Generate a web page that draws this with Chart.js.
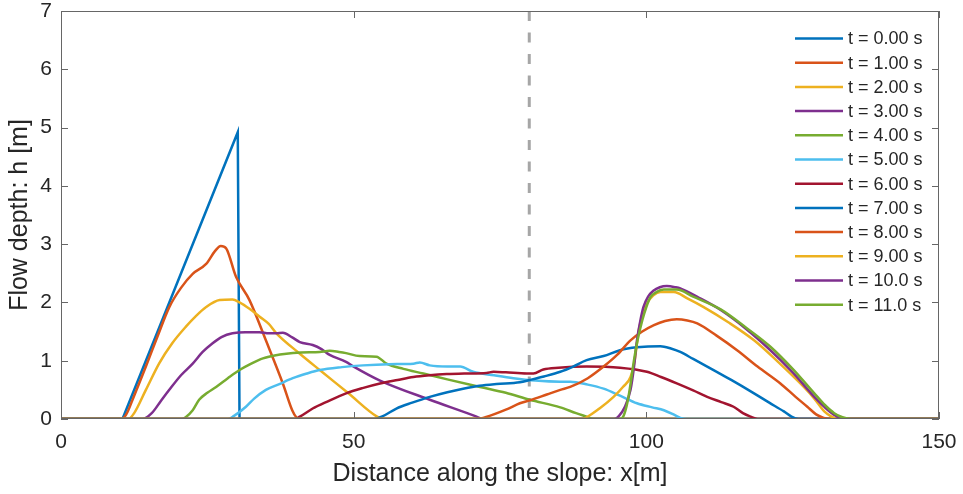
<!DOCTYPE html>
<html>
<head>
<meta charset="utf-8">
<script src="https://cdn.jsdelivr.net/npm/chart.js@4.4.0/dist/chart.umd.min.js"></script>
<style>
  html, body { margin: 0; padding: 0; background: #fff; }
  #wrap { width: 963px; height: 494px; }
</style>
</head>
<body>
<div id="wrap"><canvas id="chart"></canvas></div>
<script>
// flow depth profiles h(x) for each time step, [x, h]
const t0 = [[0,0],[10.5,0],[30.2,4.92],[30.5,0],[150,0]];
const t1 = [[0,0],[10.3,0],[11.1,0.07],[12.5,0.4],[14.5,0.9],[16.5,1.42],[18.5,1.92],[20.5,2.25],[22.5,2.49],[24.8,2.66],[26.3,2.88],[27.3,2.97],[28.2,2.93],[29.9,2.44],[32.2,2.04],[35,1.35],[37.9,0.61],[39.5,0.15],[40.2,0.03],[41,0],[150,0]];
const t2 = [[0,0],[11.5,0],[12.5,0.1],[14.5,0.5],[16.8,0.96],[19,1.3],[21.3,1.58],[23,1.76],[24.8,1.92],[27.1,2.04],[29.3,2.05],[30.5,2],[32.2,1.89],[34,1.75],[35.5,1.63],[36.8,1.47],[40.8,1.12],[44.2,0.84],[49,0.45],[54,0.04],[55,0],[150,0]];
const t3 = [[0,0],[14,0],[15.5,0.1],[17,0.3],[18.5,0.5],[20.5,0.75],[22.5,0.95],[24.2,1.15],[25.9,1.3],[27.5,1.41],[29.3,1.47],[31.5,1.49],[33.9,1.49],[35.5,1.47],[36.8,1.47],[37.9,1.48],[39.5,1.4],[40.8,1.32],[43,1.27],[44.5,1.2],[45.9,1.1],[48.7,0.98],[50,0.9],[54.5,0.66],[63,0.33],[71,0.04],[72,0],[150,0]];
const t4 = [[0,0],[20.5,0],[21.3,0.03],[22.5,0.15],[23.6,0.33],[25,0.45],[26.5,0.55],[28.5,0.7],[30.5,0.84],[32.5,0.95],[34.5,1.04],[36.5,1.09],[38.5,1.12],[41,1.14],[44.2,1.15],[45.9,1.17],[47.5,1.15],[48.7,1.13],[51,1.08],[53.9,1.07],[55.6,0.95],[58.5,0.86],[61.9,0.78],[66,0.68],[71.6,0.55],[76,0.45],[80.1,0.33],[85.3,0.2],[88,0.1],[89.8,0.04],[91,0],[150,0]];
const t5 = [[0,0],[28.5,0],[29.5,0.05],[31.6,0.21],[33,0.35],[35,0.5],[37.3,0.6],[39.6,0.7],[42,0.78],[44.2,0.84],[48,0.89],[51.6,0.92],[56,0.94],[60.2,0.95],[61.3,0.97],[63,0.92],[66,0.9],[68.2,0.9],[70.4,0.81],[74,0.75],[77.3,0.7],[81,0.66],[85.3,0.64],[87,0.64],[90,0.59],[92.7,0.52],[95.5,0.4],[98.4,0.27],[101,0.2],[103,0.15],[104.8,0.07],[105.8,0.02],[107,0],[150,0]];
const t6 = [[0,0],[40,0],[40.8,0.04],[43,0.18],[45.5,0.3],[48.7,0.44],[51.5,0.53],[54.5,0.61],[57.5,0.67],[60.2,0.72],[63,0.75],[65.9,0.77],[69,0.78],[72.7,0.79],[73.9,0.81],[76,0.8],[79.6,0.78],[80.7,0.78],[82.4,0.85],[85,0.88],[89.8,0.9],[95.5,0.88],[100.1,0.81],[102.5,0.72],[105.2,0.61],[108,0.49],[110.4,0.38],[112.8,0.29],[114.9,0.21],[116.5,0.1],[117.8,0.04],[119,0],[150,0]];
const t7 = [[0,0],[53.5,0],[55,0.05],[57.3,0.18],[60,0.28],[63,0.38],[66,0.46],[68.7,0.52],[71.5,0.57],[74.4,0.6],[78.4,0.63],[80.1,0.67],[82.5,0.73],[85.3,0.81],[87.5,0.9],[89.8,1.01],[92.7,1.08],[95.5,1.18],[98.4,1.23],[102.4,1.25],[104.2,1.21],[105.8,1.15],[108,1.03],[110.4,0.9],[114.5,0.67],[118.4,0.44],[121,0.28],[123.5,0.13],[124.8,0.04],[126,0],[150,0]];
const t8 = [[0,0],[71.2,0],[72.5,0.03],[76,0.16],[78.4,0.27],[80.1,0.32],[83,0.42],[85.3,0.5],[87,0.55],[90,0.7],[92.7,0.9],[95,1.1],[97.3,1.35],[99.3,1.5],[101.3,1.61],[103.2,1.68],[105.2,1.71],[107,1.69],[108.7,1.64],[112,1.43],[115.5,1.18],[119,0.9],[122.9,0.61],[125.5,0.38],[127.5,0.21],[129,0.08],[130.3,0.02],[131.5,0],[150,0]];
const t9 = [[0,0],[89,0],[89.8,0.03],[92,0.18],[94.4,0.38],[96,0.55],[97.3,0.72],[98,1],[98.7,1.52],[99.4,1.8],[100.1,1.98],[101.2,2.12],[102.4,2.18],[104.7,2.18],[107,2.07],[109.8,1.92],[114,1.66],[118.4,1.35],[122.5,0.98],[126.9,0.55],[128.7,0.35],[130.4,0.13],[131.5,0.05],[132.7,0],[150,0]];
const t10 = [[0,0],[94.5,0],[95.3,0.05],[96.3,0.2],[97.3,0.5],[97.9,0.9],[98.4,1.35],[99,1.7],[99.5,1.92],[100.3,2.1],[101.2,2.2],[102.3,2.26],[103.5,2.28],[105,2.26],[105.8,2.24],[109,2.08],[112.7,1.87],[117,1.55],[121.2,1.18],[125,0.8],[128.7,0.38],[130.5,0.2],[132.1,0.07],[133.5,0.01],[135,0],[150,0]];
const t11 = [[0,0],[95.5,0],[96.1,0.05],[96.8,0.3],[97.3,0.6],[97.8,0.95],[98.5,1.35],[99.3,1.69],[100,1.92],[100.7,2.09],[101.8,2.18],[103,2.22],[105.2,2.22],[108,2.1],[112.7,1.88],[117,1.57],[121.2,1.24],[125,0.86],[128.7,0.44],[130.5,0.24],[132.1,0.1],[133.5,0.03],[135,0],[150,0]];

const series = [t0, t1, t2, t3, t4, t5, t6, t7, t8, t9, t10, t11];
const labels = ['t = 0.00 s','t = 1.00 s','t = 2.00 s','t = 3.00 s','t = 4.00 s','t = 5.00 s',
                't = 6.00 s','t = 7.00 s','t = 8.00 s','t = 9.00 s','t = 10.0 s','t = 11.0 s'];
const colors = ['#0072BD','#D95319','#EDB120','#7E2F8E','#77AC30','#4DBEEE','#A2142F'];
const xTicks = [0, 50, 100, 150];
const yTicks = [0, 1, 2, 3, 4, 5, 6, 7];
const xMarker = 80;

const FONT = "'Liberation Sans', Arial, Helvetica, sans-serif";
const INK = '#262626';

const datasets = series.map((pts, i) => ({
  label: labels[i],
  data: pts.map(p => ({ x: p[0], y: p[1] })),
  borderColor: colors[i % colors.length],
  borderWidth: 2.5,
  pointRadius: 0,
  showLine: true,
  fill: false,
  tension: 0,
  cubicInterpolationMode: i === 0 ? 'default' : 'monotone',
  order: 100 - i   // later time steps on top, like matlab
}));

// dashed marker line
datasets.push({
  label: '',
  data: [{ x: xMarker, y: 7 }, { x: xMarker, y: 0 }],
  borderColor: '#A6A6A6',
  borderWidth: 3,
  borderDash: [10, 11.5],
  pointRadius: 0,
  showLine: true,
  order: 200
});

// box, inward ticks and the legend inside the axes
const matlabAxes = {
  id: 'matlabAxes',
  afterDraw(chart) {
    const ctx = chart.ctx;
    const a = chart.chartArea;
    const xs = chart.scales.x, ys = chart.scales.y;
    ctx.save();
    ctx.strokeStyle = '#666';
    ctx.lineWidth = 1;
    ctx.strokeRect(a.left + 0.5, a.top + 0.5, a.right - a.left - 1, a.bottom - a.top - 1);
    ctx.beginPath();
    const tl = 7;
    xTicks.forEach(v => {
      const px = Math.round(xs.getPixelForValue(v)) + 0.5;
      ctx.moveTo(px, a.bottom); ctx.lineTo(px, a.bottom - tl);
      ctx.moveTo(px, a.top); ctx.lineTo(px, a.top + tl);
    });
    yTicks.forEach(v => {
      const py = Math.round(ys.getPixelForValue(v)) + 0.5;
      ctx.moveTo(a.left, py); ctx.lineTo(a.left + tl, py);
      ctx.moveTo(a.right, py); ctx.lineTo(a.right - tl, py);
    });
    ctx.stroke();

    // legend
    ctx.font = '18px ' + FONT;
    ctx.textBaseline = 'middle';
    ctx.fillStyle = INK;
    chart.data.datasets.forEach((ds, i) => {
      if (!ds.label) return;
      const y = 38.5 + i * 24.2;
      ctx.strokeStyle = ds.borderColor;
      ctx.lineWidth = 2.5;
      ctx.beginPath();
      ctx.moveTo(795, y); ctx.lineTo(843, y);
      ctx.stroke();
      ctx.fillText(ds.label, 848, y + 1);
    });
    ctx.restore();
  }
};

new Chart(document.getElementById('chart'), {
  type: 'scatter',
  data: { datasets },
  options: {
    responsive: true,
    maintainAspectRatio: false,
    animation: false,
    layout: { padding: { left: 0, right: 24, top: 11, bottom: 0 } },
    plugins: { legend: { display: false }, tooltip: { enabled: false } },
    scales: {
      x: {
        type: 'linear', min: 0, max: 150,
        afterFit: s => { s.height = 75; s.paddingLeft = 0; s.paddingRight = 0; },
        afterBuildTicks: s => { s.ticks = xTicks.map(v => ({ value: v })); },
        grid: { display: false, drawTicks: false },
        border: { display: false },
        ticks: { color: INK, padding: 11, font: { family: FONT, size: 21 }, maxRotation: 0 },
        title: { display: true, text: 'Distance along the slope: x[m]', color: INK,
                 font: { family: FONT, size: 25 }, padding: { top: 0, bottom: 5 } }
      },
      y: {
        type: 'linear', min: 0, max: 7,
        afterFit: s => { s.width = 61; s.paddingTop = 0; s.paddingBottom = 0; },
        afterBuildTicks: s => { s.ticks = yTicks.map(v => ({ value: v })); },
        grid: { display: false, drawTicks: false },
        border: { display: false },
        ticks: { color: INK, padding: 9, font: { family: FONT, size: 21 } },
        title: { display: true, text: 'Flow depth: h [m]', color: INK,
                 font: { family: FONT, size: 25 }, padding: { top: 5, bottom: 0 } }
      }
    }
  },
  plugins: [matlabAxes]
});
</script>
</body>
</html>
